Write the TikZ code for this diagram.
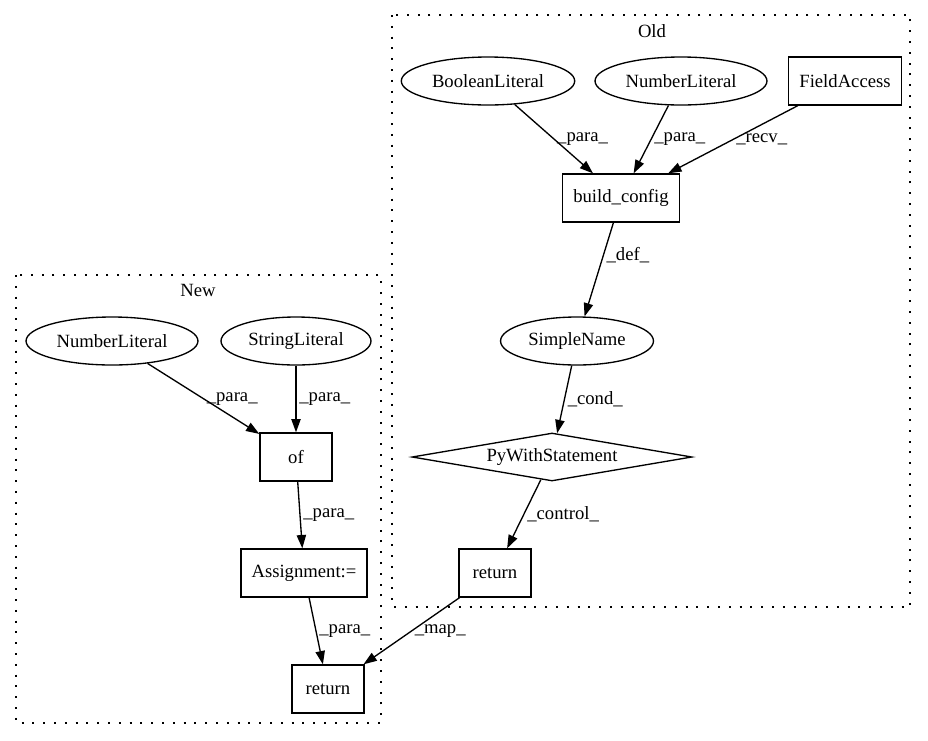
\documentclass[tikz,border=0pt]{standalone}
\usepackage{fontspec}
\setmainfont{Liberation Serif}
\usetikzlibrary{shapes.geometric,arrows.meta}
\begin{document}
\begin{tikzpicture}
    [x=0.75pt, y=-0.75pt,
    every node/.style={font=\fontsize{14}{16}\selectfont},
    lit/.style={ellipse, draw, line width=1pt, inner xsep=4pt, minimum height=36pt},
    op/.style={rectangle, draw, line width=1pt, inner xsep=8pt, minimum width=54pt, minimum height=36pt},
    stmt/.style={diamond, draw, line width=1pt, aspect=5.8, inner sep=0pt, minimum width=210pt, minimum height=36pt},
    edge/.style={-{Triangle[length=10pt, width=7pt]}, line width=1pt, black},
    lbl/.style={midway, right, inner sep=2pt},
    cluster/.style={line width=1pt, dash pattern=on 1.5pt off 6.6pt}]

    \useasboundingbox (0,0) rectangle (928,740);

    \draw[cluster] (392,15) rectangle (910,607);
    \node (old) at (652,31) {Old};
    \draw[cluster] (16,275) rectangle (381,723);
    \node (new) at (198,290) {New};

    \node[lit] (bool) at (488,81) {BooleanLiteral};
    \node[lit] (numold) at (681,81) {NumberLiteral};
    \node[op] (field) at (845,81) {FieldAccess};
    \node[op] (build) at (621,198) {build\_config};
    \node[lit] (simple) at (577,341) {SimpleName};
    \node[stmt] (with) at (552,457) {PyWithStatement};
    \node[op] (retold) at (495,573) {return};

    \node[lit] (numnew) at (112,341) {NumberLiteral};
    \node[lit] (str) at (296,341) {StringLiteral};
    \node[op] (of) at (296,457) {of};
    \node[op] (assign) at (304,573) {Assignment:=};
    \node[op] (retnew) at (328,689) {return};

    \draw[edge] (bool) -- (build) node[lbl] {\_para\_};
    \draw[edge] (numold) -- (build) node[lbl] {\_para\_};
    \draw[edge] (field) -- (build) node[lbl] {\_recv\_};
    \draw[edge] (build) -- (simple) node[lbl, pos=0.35] {\_def\_};
    \draw[edge] (simple) -- (with) node[lbl] {\_cond\_};
    \draw[edge] (with) -- (retold) node[lbl] {\_control\_};

    \draw[edge] (numnew) -- (of) node[lbl] {\_para\_};
    \draw[edge] (str) -- (of) node[lbl] {\_para\_};
    \draw[edge] (of) -- (assign) node[lbl] {\_para\_};
    \draw[edge] (assign) -- (retnew) node[lbl] {\_para\_};
    \draw[edge] (retold) -- (retnew) node[lbl] {\_map\_};

\end{tikzpicture}
\end{document}
